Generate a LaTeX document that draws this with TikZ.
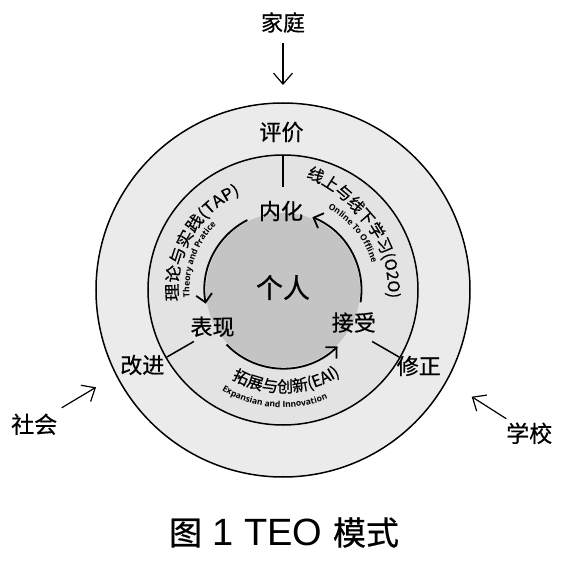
\documentclass[tikz,border=0pt]{standalone}
\usepackage{fontspec}
\setmainfont{Noto Sans CJK SC}[FakeBold=0.6]
\newfontfamily\widecjk[FakeStretch=1.1,FakeBold=0.5]{Noto Sans CJK SC}
\newfontfamily\subsans{Open Sans}
\newfontfamily\capsans{Liberation Sans}
\usetikzlibrary{arrows.meta,decorations.text}

\begin{document}
\begin{tikzpicture}[
  x=10pt, y=10pt,
  >={Straight Barb[length=11pt,width=19pt]},
  lab/.style={inner sep=1pt, font=\fontsize{22}{26}\selectfont},
  outlab/.style={inner sep=1pt, font=\fontsize{23}{27}\selectfont},
  ring/.style={draw, line width=1.5pt},
  sep/.style={line width=1.5pt},
  arr/.style={->, line width=1.2pt},
  cyc/.style={-{Straight Barb[length=8pt,width=16pt]}, line width=1.8pt}
]
\useasboundingbox (-28.3,-27.5) rectangle (29.3,29.0);

% rings
\filldraw[ring, fill=black!8] (0,0) circle[radius=18.7];
\filldraw[ring, fill=black!11] (0,0) circle[radius=13.5];
\fill[black!23] (0,0) circle[radius=7.7];
\foreach \a in {90,210,330}
  \draw[sep] (\a:10.3) -- (\a:13.5);

% inner cycle
\coordinate (c1) at (117:7.85);
\coordinate (c2) at (224:7.85);
\coordinate (c3) at (-9:7.85);
\draw[cyc] (c1) arc[start angle=117, end angle=190, radius=7.85];
\draw[cyc] (c2) arc[start angle=224, end angle=314, radius=7.85];
\draw[cyc] (c3) arc[start angle=-9, end angle=68, radius=7.85];

% labels
\node[lab] (home) at (0,26.75) {家庭};
\node[lab] (eval) at (-0.15,15.8) {评价};
\node[lab] (intern) at (-0.2,7.9) {内化};
\node[lab, font=\fontsize{27}{30}\selectfont] (self) at (0,0.25) {个人};
\node[lab] (express) at (-7.05,-3.67) {表现};
\node[lab] (accept) at (7.08,-3.25) {接受};
\node[lab] (improve) at (-14.07,-7.5) {改进};
\node[lab] (revise) at (13.58,-7.6) {修正};
\node[outlab] (society) at (-24.88,-13.42) {社会};
\node[outlab] (school) at (24.62,-14.33) {学校};

% curved texts
\path[decorate, decoration={text along path, text align=center,
  text={|\widecjk\fontsize{16}{18}\selectfont|理论与实践(TAP)}}]
  (195:10.5) arc[start angle=195, end angle=105, radius=10.5];
\path[decorate, decoration={text along path, text align=center,
  text={|\subsans\bfseries\fontsize{8.5}{10}\selectfont|Theory and Pratice}}]
  (200:9.35) arc[start angle=200, end angle=120, radius=9.35];
\path[decorate, decoration={text along path,
  text={|\fontsize{16}{18}\selectfont|线上与线下学习(O2O)}}]
  plot[domain=78.5:-15, samples=50] (\x:{10.5+0.03*max(\x-45,0)});
\path[decorate, decoration={text along path, text align=center,
  text={|\subsans\bfseries\fontsize{8.5}{10}\selectfont|Online To Offline}}]
  (79:9.3) arc[start angle=79, end angle=-1, radius=9.3];
\path[decorate, decoration={text along path, text align=center,
  text={|\fontsize{16}{18}\selectfont|拓展与创新(EAI)}}]
  (222:10.25) arc[start angle=222, end angle=322, radius=10.25];
\path[decorate, decoration={text along path, text align=center,
  text={|\subsans\bfseries\fontsize{8.5}{10}\selectfont|Expansian and Innovation}}]
  (215:11.75) arc[start angle=215, end angle=316, radius=11.75];

% outside arrows
\coordinate (homeTip) at (0,20.5);
\coordinate (societyTip) at (-18.7,-9.73);
\coordinate (schoolTip) at (18.87,-10.67);
\draw[arr, shorten <=9pt] (home) -- (homeTip);
\draw[arr, shorten <=9pt] (society) -- (societyTip);
\draw[arr, shorten <=5pt] (school) -- (schoolTip);

% caption
\node[anchor=base] (title) at (0.1,-25.5)
  {{\fontsize{33}{40}\selectfont 图}{\capsans\fontsize{38}{40}\selectfont\ 1 TEO\ }{\fontsize{33}{40}\selectfont 模式}};
\end{tikzpicture}
\end{document}
